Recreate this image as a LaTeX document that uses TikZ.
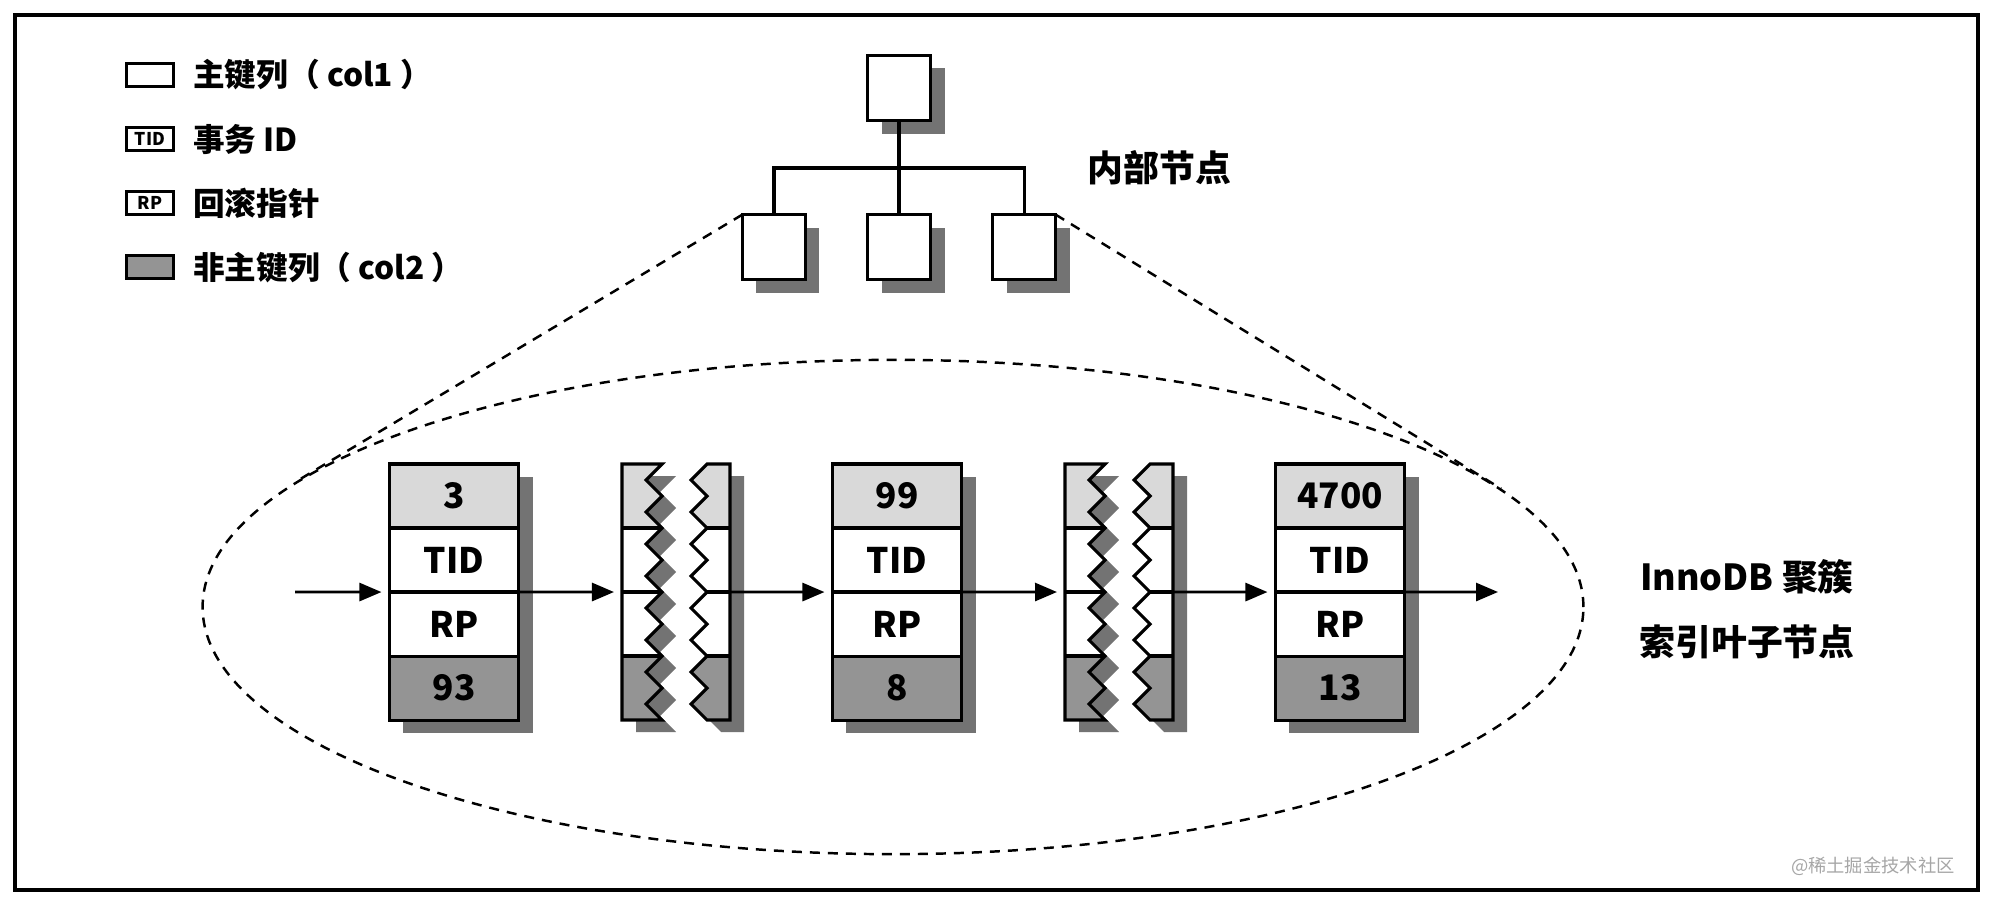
\documentclass[tikz,border=0pt]{standalone}
\usepackage{fontspec}
\setmainfont{Noto Sans CJK SC}
\usetikzlibrary{positioning, arrows.meta, shapes.geometric, shadows}

\colorlet{keyfill}{black!15}
\colorlet{colfill}{black!42}
\colorlet{shadefill}{black!55}

\newcommand{\zigpath}[3]{({#1},464) -- ({#2},464) \foreach \k in {1,...,16} { -- ({(#2)-((#2)-(#3))*mod(\k,2)},{464+\k*256/16}) } -- ({#1},720) -- cycle}

\newcommand{\brokenpiece}[3]{%
  \fill[shadefill, xshift=0.14cm, yshift=-0.12cm] \zigpath{#1}{#2}{#3};
  \begin{scope}
    \clip \zigpath{#1}{#2}{#3};
    \fill[white] ({(#1)-60},464) rectangle ({(#1)+60},720);
    \fill[keyfill] ({(#1)-60},464) rectangle ({(#1)+60},528);
    \fill[colfill] ({(#1)-60},656) rectangle ({(#1)+60},720);
    \draw[rowline] ({(#1)-60},528) -- ({(#1)+60},528) ({(#1)-60},592) -- ({(#1)+60},592) ({(#1)-60},656) -- ({(#1)+60},656);
  \end{scope}
  \draw[rowline] \zigpath{#1}{#2}{#3};
}

\newcommand{\leafgap}[2]{%
  \brokenpiece{#2+168}{#2+208}{#2+192}
  \brokenpiece{#2+276}{#2+253}{#2+237}
  \coordinate (#1l) at ({#2+168},592);
  \coordinate (#1r) at ({#2+276},592);
}

\newcommand{\leafpage}[4]{%
  \node[cell, fill=keyfill] (#1a) at (#2,496) {#3};
  \node[cell, below=0pt of #1a] (#1b) {TID};
  \node[cell, below=0pt of #1b] (#1c) {RP};
  \node[cell, fill=colfill, below=0pt of #1c] (#1d) {#4};
}

\begin{document}
\begin{tikzpicture}[
    x=0.01cm, y=-0.01cm,
    shade/.style={drop shadow={shadow xshift=0.14cm, shadow yshift=-0.13cm, fill=shadefill, opacity=1}},
    rowline/.style={line width=0.9pt},
    cell/.style={draw, rowline, fill=white, minimum width=1.29cm, minimum height=0.64cm, inner sep=0, outer sep=0, font=\fontsize{10}{12}\selectfont\bfseries, shade},
    tbox/.style={draw, rowline, fill=white, minimum width=0.63cm, minimum height=0.65cm, inner sep=0, outer sep=0, shade},
    lbox/.style={draw, rowline, minimum width=0.47cm, minimum height=0.23cm, inner sep=0, outer sep=0, font=\fontsize{5}{6}\selectfont\bfseries},
    lbl/.style={font=\fontsize{10.2}{18.5}\selectfont\bfseries},
    legend/.style={font=\fontsize{9}{10}\selectfont\bfseries, anchor=west, inner sep=0},
    dashline/.style={dashed, dash pattern=on 0.1cm off 0.08cm, line width=0.7pt},
    arr/.style={-{Triangle[length=0.22cm, width=0.18cm]}, line width=0.8pt, shorten >=0.08cm}
]
    \useasboundingbox (0,0) rectangle (1992,900);
    \draw[line width=0.9pt] (15,15) rectangle (1978,890);

    \node[lbox] (lg1) at (150,75) {};
    \node[lbox, below=0.41cm of lg1] (lg2) {TID};
    \node[lbox, below=0.41cm of lg2] (lg3) {RP};
    \node[lbox, fill=colfill, below=0.41cm of lg3] (lg4) {};
    \node[legend, right=0.19cm of lg1] (lt1) {主键列（ col1 ）};
    \node[legend, right=0.19cm of lg2] (lt2) {事务 ID};
    \node[legend, right=0.19cm of lg3] (lt3) {回滚指针};
    \node[legend, right=0.19cm of lg4] (lt4) {非主键列（ col2 ）};

    \node[ellipse, draw, dashline, minimum width=13.8cm, minimum height=4.94cm, inner sep=0] (leafzone) at (893,607) {};

    \node[tbox] (root) at (899,88) {};
    \node[tbox, below=0.94cm of root] (c2) {};
    \node[tbox, left=0.62cm of c2] (c1) {};
    \node[tbox, right=0.62cm of c2] (c3) {};
    \coordinate (bar) at (899,168);
    \draw[rowline] (root) -- (c2);
    \draw[rowline] (c1.north) |- (bar) -| (c3.north);
    \draw[dashline] (c1.north west) -- (leafzone.168);
    \draw[dashline] (c3.north east) -- (leafzone.11);
    \node[lbl, anchor=west] (inner) at (1075,168) {内部节点};

    \leafpage{p1}{454}{3}{93}
    \leafgap{g1}{454}
    \leafpage{p2}{897}{99}{8}
    \leafgap{g2}{897}
    \leafpage{p3}{1340}{4700}{13}

    \coordinate (in) at (295,592);
    \coordinate (out) at (1498,592);
    \draw[arr] (in) -- (p1c.north west);
    \draw[arr] (p1c.north east) -- (g1l);
    \draw[arr] (g1r) -- (p2c.north west);
    \draw[arr] (p2c.north east) -- (g2l);
    \draw[arr] (g2r) -- (p3c.north west);
    \draw[arr, shorten >=0pt] (p3c.north east) -- (out);

    \node[lbl, align=center] (leaflbl) at (1747,609) {InnoDB 聚簇\\索引叶子节点};
    \node[font=\fontsize{5.2}{6}\selectfont, text=black!35, anchor=east] (mark) at (1967,866) {@稀土掘金技术社区};
\end{tikzpicture}
\end{document}
